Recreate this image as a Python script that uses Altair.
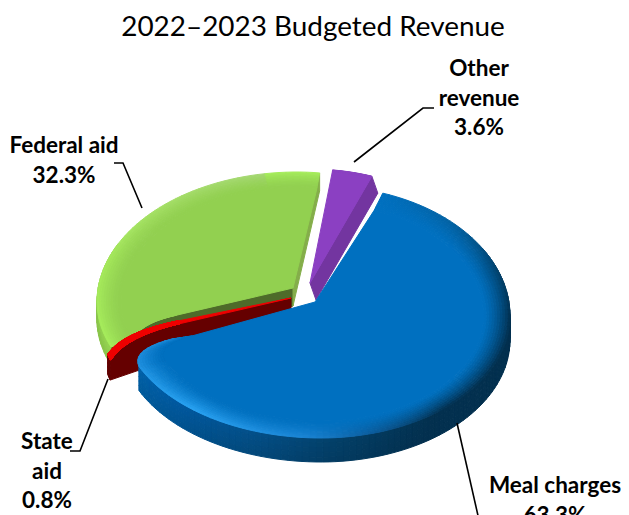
import math
import numpy as np
import altair as alt

# ---- chart values ----
categories = ["Meal charges", "State aid", "Federal aid", "Other revenue"]
shares = [63.3, 0.8, 32.3, 3.6]
title_text = "2022\u20132023 Budgeted Revenue"
label_lines = [["Meal charges", "63.3%"], ["State", "aid", "0.8%"], ["Federal aid", "32.3%"], ["Other", "revenue", "3.6%"]]

# ---- drawing layout of the 3-D pie (picture pixels) ----
START_ANGLE = -72.3
AR, AL, BU, BD = 189.0, 200.0, 130.0, 122.0
W, H = 613, 507
OX, OY = 8, 8
label_anchor = [(555, 486), (47, 442), (64, 146), (479, 69)]
LINE_STEP = 29.5
leaders = [
    [(457, 423), (479, 520)],
    [(108, 379), (80, 451), (70, 451)],
    [(142, 208), (123, 163), (114, 163)],
    [(354, 162), (423, 108), (434, 108)],
]


def hex2rgb(h):
    return np.array([int(h[i:i + 2], 16) for i in (1, 3, 5)], dtype=float)


def rgb2hex(c):
    return "#%02x%02x%02x" % tuple(int(round(max(0, min(255, v)))) for v in c)


def mix(a, b, f):
    return a + (b - a) * f


def ramp(stops, t):
    ts = [s[0] for s in stops]
    cols = np.array([hex2rgb(s[1]) for s in stops])
    return np.array([np.interp(t, ts, cols[:, k]) for k in range(3)])


def warp(phi):
    return phi + 4 * (1 + math.cos(math.radians(phi - 157)))


def ell(c, t):
    r = math.radians(t)
    co, si = math.cos(r), math.sin(r)
    return np.array([c[0] + (AR if co > 0 else AL) * co, c[1] + (BD if si > 0 else BU) * si])


def param(c, p):
    dx, dy = p[0] - c[0], p[1] - c[1]
    return math.degrees(math.atan2(dy / (BD if dy > 0 else BU), dx / (AR if dx > 0 else AL)))


def bez(a, k, b, n=10):
    return [(1 - u) ** 2 * a + 2 * u * (1 - u) * k + u ** 2 * b for u in np.linspace(0, 1, n + 1)]


features = []


def add(poly, color):
    ring = [[round(float(p[0]), 2), round(float(p[1]), 2)] for p in poly]
    ring.append(ring[0])
    features.append({"type": "Feature", "properties": {"col": color},
                     "geometry": {"type": "Polygon", "coordinates": [ring]}})


def draw_slice(c, apex, t0, t1, depth, face, peak, wall_top, wall_bot, s0, radial=(), rstart=None, rend=None,
               gamma=1.5, flare=0.0):
    """rstart / rend = (shift along the arc, control offset x, control offset y, fraction towards the apex)."""
    c = np.array(c, dtype=float)
    apex = np.array(apex, dtype=float)
    ts, te = t0 + (rstart[0] if rstart else 0), t1 - (rend[0] if rend else 0)
    n = max(2, int((te - ts) / 2))
    arc = [ell(c, t) for t in np.linspace(ts, te, n + 1)]
    head, tail = [], []
    if rstart:
        k = ell(c, t0) + np.array(rstart[1:3])
        head = bez(k + (apex - k) * rstart[3], k, arc[0])[:-1]
    if rend:
        k = ell(c, t1) + np.array(rend[1:3])
        tail = bez(arc[-1], k, k + (apex - k) * rend[3])[1:]
    pts = head + arc + tail
    down = np.array([0.0, depth])
    fc = hex2rgb(face)
    # straight cut walls that face the viewer
    for which, col in radial:
        if which == "start":
            q = arc[0]
            chain = head + [q]
        else:
            q = arc[-1]
            chain = [q] + tail
        low = down + np.array([flare, 0.0])
        add([apex] + (chain if which == "start" else chain[::-1]) + [q + low, apex + low], col)
    # outer wall
    nw = 5
    for i in range(len(arc) - 1):
        a, b = arc[i], arc[i + 1]
        m = (a + b) / 2
        tm = param(c, m)
        if tm < -100:
            tm += 360
        if a[1] + depth < c[1] - 40 and b[1] + depth < c[1] - 40:
            continue
        ct, cb = ramp(wall_top, tm), ramp(wall_bot, tm)
        for j in range(nw):
            f0, f1 = j / nw, (j + 1) / nw
            add([a + down * f0, b + down * f0, b + down * f1, a + down * f1], rgb2hex(mix(ct, cb, (j + .5) / nw)))
    # rounded rim
    nu = 10
    sv = np.linspace(s0, 1.0, nu + 1)
    for i in range(len(pts) - 1):
        a, b = pts[i], pts[i + 1]
        tm = param(c, (a + b) / 2)
        if tm < -100:
            tm += 360
        pk = ramp(peak, tm)
        for j in range(nu - 1, -1, -1):
            p = [c + (a - c) * sv[j + 1], c + (b - c) * sv[j + 1], c + (b - c) * sv[j], c + (a - c) * sv[j]]
            add(p, rgb2hex(mix(fc, pk, ((j + .5) / nu) ** gamma)))
    # flat top
    add([apex] + [c + (p - c) * s0 for p in pts], face)


# ---- angles come from the shares ----
bounds = [START_ANGLE]
for s in shares:
    bounds.append(bounds[-1] + s * 3.6)
ang = [warp(b) for b in bounds]

# purple (back)
draw_slice((310, 299), (310, 283), ang[3], ang[4], 17, "#8b40c2",
           [(270, "#8a44c0"), (300, "#7d38ae")], [(270, "#7335a0"), (300, "#7335a0")],
           [(270, "#6a2f96"), (300, "#6a2f96")], 0.98,
           radial=[("end", "#7335a0")], flare=6.0)
# green
draw_slice((297, 302), (293, 288), ang[2], ang[3], 18, "#92d050",
           [(160, "#a6ee5c"), (200, "#a6ea5c"), (240, "#a5dc6c"), (280, "#a8d480")],
           [(140, "#98d854"), (280, "#8fc84e")], [(140, "#8cc84c"), (280, "#7fb545")], 0.88,
           radial=[("start", "#4e6b2a"), ("end", "#84ae4a")], rstart=(-8, 13.5, -4, 0.25))
# red
draw_slice((302, 325.6), (291, 298), ang[1], ang[2], 20, "#ee0000",
           [(150, "#ee0000"), (180, "#ee0000")], [(150, "#650000"), (180, "#650000")],
           [(150, "#600000"), (180, "#600000")], 0.995,
           radial=[("start", "#650000")], rstart=(0.01, 15, -24, 0.33), rend=(0.01, 14.5, -22, 0.33))
# blue
draw_slice((321, 316), (315, 302), ang[0], ang[1], 24, "#0070c0",
           [(-72, "#0070c0"), (-45, "#03609f"), (-20, "#034068"), (0, "#02304f"), (50, "#03304f"), (75, "#0c5c9c"),
            (95, "#1c86d6"), (130, "#2aa5f5"), (150, "#2399e8"), (170, "#1a86d6")],
           [(-72, "#03304f"), (55, "#03304f"), (85, "#034068"), (110, "#03508a"), (135, "#0058a0"), (170, "#0068b0")],
           [(-72, "#03304f"), (60, "#03304f"), (85, "#033a60"), (110, "#03487a"), (135, "#00528f"), (170, "#0060a4")],
           0.86, rend=(8, 2, -1, 0.22), gamma=1.3)

# ---- layers ----
x_scale = alt.Scale(domain=[OX, OX + W], range=[0, W])
y_scale = alt.Scale(domain=[OY, OY + H], range=[0, H])

pie = alt.Chart(alt.Data(values=features)).mark_geoshape(strokeWidth=1.0).encode(
    fill=alt.Fill("properties.col:N", scale=None, legend=None),
    stroke=alt.Stroke("properties.col:N", scale=None, legend=None),
).project(type="identity", scale=1, translate=[-OX, -OY])

rows = []
for k, line in enumerate(leaders):
    for o, (x, y) in enumerate(line):
        rows.append({"k": categories[k], "o": o, "x": x, "y": y})
lead = alt.Chart(alt.Data(values=rows)).mark_line(color="black", strokeWidth=1.6, clip=True).encode(
    x=alt.X("x:Q", scale=x_scale, axis=None),
    y=alt.Y("y:Q", scale=y_scale, axis=None),
    detail="k:N", order="o:Q",
)

txt = []
for (ax, ay), lines in zip(label_anchor, label_lines):
    for i, s in enumerate(lines):
        txt.append({"x": ax, "y": ay + i * LINE_STEP, "s": s})
labels = alt.Chart(alt.Data(values=txt)).mark_text(font="Lato", fontWeight="bold", fontSize=22.5, color="black",
                                                   baseline="middle", align="center", clip=True).encode(
    x=alt.X("x:Q", scale=x_scale, axis=None),
    y=alt.Y("y:Q", scale=y_scale, axis=None),
    text="s:N",
)
title = alt.Chart(alt.Data(values=[{"x": 313, "y": 28, "s": title_text}])).mark_text(
    font="Lato", fontSize=27.9, color="black", baseline="middle", align="center").encode(
    x=alt.X("x:Q", scale=x_scale, axis=None),
    y=alt.Y("y:Q", scale=y_scale, axis=None),
    text="s:N",
)

chart = alt.layer(pie, lead, labels, title).properties(width=W, height=H, padding=0).configure_view(stroke=None)
chart.autosize = alt.AutoSizeParams(type="none")
chart.save("out.html", embed_options={"renderer": "svg", "actions": False})
